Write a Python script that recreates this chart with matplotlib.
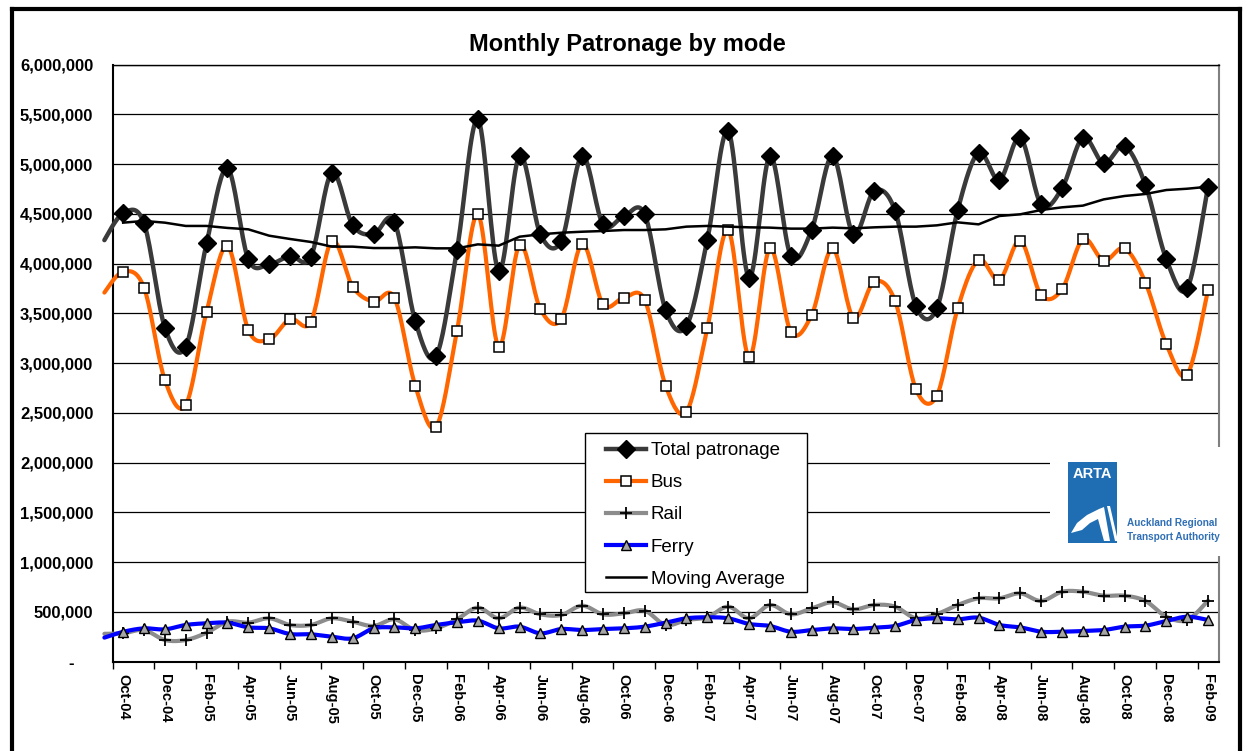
import numpy as np
import pandas as pd
import matplotlib
matplotlib.use('Agg')
import matplotlib.pyplot as plt
from matplotlib.lines import Line2D
from matplotlib.patches import Rectangle, Polygon
from matplotlib.ticker import FuncFormatter

plt.rcParams['font.family'] = ['Liberation Sans', 'DejaVu Sans']

# Monthly data, Sep-04 .. Feb-09 (Sep-04 only shows as the stub at the left edge)
months = pd.date_range('2004-09-01', '2009-02-01', freq='MS').strftime('%b-%y').tolist()

total = [4200000, 4505000, 4405000, 3356000, 3165000, 4204000, 4957000, 4043000, 3993000,
         4076000, 4069000, 4913000, 4387000, 4294000, 4421000, 3423000, 3071000, 4136000,
         5449000, 3925000, 5084000, 4294000, 4227000, 5084000, 4394000, 4478000, 4495000,
         3534000, 3373000, 4237000, 5332000, 3858000, 5081000, 4079000, 4337000, 5081000,
         4294000, 4729000, 4531000, 3574000, 3551000, 4538000, 5114000, 4840000, 5265000,
         4595000, 4756000, 5265000, 5007000, 5181000, 4789000, 4043000, 3751000, 4772000]

bus = [3680000, 3918000, 3758000, 2830000, 2579000, 3516000, 4177000, 3333000, 3239000,
       3443000, 3416000, 4227000, 3768000, 3617000, 3657000, 2773000, 2361000, 3323000,
       4495000, 3165000, 4187000, 3541000, 3443000, 4197000, 3591000, 3657000, 3634000,
       2773000, 2512000, 3350000, 4337000, 3058000, 4153000, 3316000, 3483000, 4153000,
       3456000, 3818000, 3624000, 2737000, 2673000, 3551000, 4036000, 3835000, 4230000,
       3684000, 3741000, 4244000, 4029000, 4153000, 3808000, 3189000, 2884000, 3735000]

rail = [280000, 285000, 318000, 218000, 218000, 291000, 402000, 392000, 436000,
        369000, 369000, 436000, 402000, 359000, 426000, 318000, 335000, 426000,
        543000, 436000, 543000, 476000, 469000, 563000, 476000, 486000, 512000,
        369000, 419000, 446000, 553000, 436000, 570000, 476000, 536000, 597000,
        526000, 570000, 553000, 436000, 479000, 570000, 637000, 637000, 687000,
        610000, 703000, 703000, 663000, 663000, 610000, 452000, 419000, 613000]

ferry = [235000, 300000, 335000, 325000, 369000, 386000, 392000, 345000, 335000,
         278000, 275000, 251000, 235000, 335000, 345000, 335000, 369000, 396000,
         412000, 335000, 352000, 285000, 328000, 318000, 328000, 335000, 352000,
         392000, 436000, 446000, 436000, 379000, 359000, 301000, 318000, 335000,
         328000, 342000, 359000, 419000, 436000, 426000, 442000, 369000, 345000,
         301000, 301000, 308000, 318000, 352000, 362000, 409000, 452000, 419000]

moving_avg = [np.nan, 4411000, 4428000, 4411000, 4378000, 4378000, 4358000, 4344000, 4280000,
              4247000, 4217000, 4170000, 4170000, 4156000, 4156000, 4163000, 4153000, 4153000,
              4193000, 4180000, 4270000, 4294000, 4310000, 4320000, 4327000, 4337000, 4337000,
              4344000, 4371000, 4378000, 4371000, 4364000, 4361000, 4351000, 4351000, 4361000,
              4354000, 4364000, 4371000, 4371000, 4384000, 4414000, 4394000, 4478000, 4495000,
              4538000, 4565000, 4582000, 4645000, 4679000, 4699000, 4739000, 4752000, 4772000]

x = np.arange(len(months)) - 1   # Oct-04 sits at 0


def smooth(xs, ys, n=20):
    # Excel style smoothed line: bezier segments through every point
    p = np.column_stack([xs, ys]).astype(float)
    p = np.vstack([p[0], p, p[-1]])
    t = np.linspace(0, 1, n)[:, None]
    out = []
    for i in range(1, len(p) - 2):
        p0, p1, p2, p3 = p[i - 1], p[i], p[i + 1], p[i + 2]
        c1 = p1 + (p2 - p0) / 6
        c2 = p2 - (p3 - p1) / 6
        seg = ((1 - t) ** 3) * p1 + 3 * ((1 - t) ** 2) * t * c1 + 3 * (1 - t) * t ** 2 * c2 + t ** 3 * p2
        out.append(seg if i == 1 else seg[1:])
    out = np.vstack(out)
    return out[:, 0], out[:, 1]


W, H = 1244, 751
fig = plt.figure(figsize=(W / 100, H / 100), dpi=100)
fig.patch.set_facecolor('white')
ax = fig.add_axes([112.7 / W, 1 - 661.7 / H, (1218.5 - 112.7) / W, (661.7 - 64.5) / H])

ax.set_xlim(-0.5, 52.5)
ax.set_ylim(0, 6000000)
ax.set_yticks(np.arange(0, 6000001, 500000))
ax.yaxis.set_major_formatter(FuncFormatter(lambda v, p: '-    ' if v == 0 else f'{v:,.0f}'))
ax.yaxis.grid(True, color='black', lw=0.9)
ax.set_axisbelow(True)
ax.tick_params(axis='y', length=0, pad=14, labelsize=12)
for lab in ax.get_yticklabels():
    lab.set_fontweight('bold')

# tick marks between every second month, labels on the month itself
ax.set_xticks(np.arange(-0.5, 52.6, 2))
ax.set_xticklabels([])
ax.set_xticks(np.arange(0, 53, 2), minor=True)
ax.set_xticklabels(months[1::2], minor=True, rotation=-90, fontsize=10.5,
                   fontweight='bold', va='top', ha='center')
ax.tick_params(axis='x', which='major', length=5, width=1, color='black', direction='out')
ax.tick_params(axis='x', which='minor', length=0, pad=9)

for side in ['left', 'bottom', 'top']:
    ax.spines[side].set_color('black')
ax.spines['left'].set_linewidth(1.5)
ax.spines['bottom'].set_linewidth(1.5)
ax.spines['top'].set_linewidth(1.0)
ax.spines['right'].set_color('#808080')
ax.spines['right'].set_linewidth(1.5)

series = [
    ('Total patronage', total, '#3a3a3a', 3.2, dict(marker='D', ms=9.5, mfc='black', mec='black')),
    ('Bus', bus, '#ff6600', 3.0, dict(marker='s', ms=6.5, mfc='white', mec='black', mew=1.1)),
    ('Rail', rail, '#8c8c8c', 3.0, dict(marker='+', ms=9, mec='black', mew=1.3)),
    ('Ferry', ferry, '#0000ff', 3.0, dict(marker='^', ms=6.5, mfc='#a6a6a6', mec='black', mew=1.0)),
]

handles = []
z = 3
for name, vals, col, lw, mk in series:
    sx, sy = smooth(x, vals)
    keep = sx >= -0.92
    ax.plot(sx[keep], sy[keep], color=col, lw=lw, solid_capstyle='round', zorder=z, clip_on=False)
    ax.plot(x[1:], vals[1:], ls='none', zorder=z + 0.5, clip_on=False, **mk)
    handles.append(Line2D([], [], color=col, lw=lw, label=name, **mk))
    z += 1

ax.plot(x, moving_avg, color='black', lw=1.8, zorder=z)
handles.append(Line2D([], [], color='black', lw=1.8, label='Moving Average'))

# legend with a manual frame
fig.add_artist(Rectangle((585 / W, 1 - 592 / H), (807 - 585) / W, (592 - 433) / H,
                         transform=fig.transFigure, facecolor='white', edgecolor='black',
                         lw=1.0, zorder=10))
leg = fig.legend(handles=handles, loc='upper left', bbox_to_anchor=(606 / W, 1 - 442 / H),
                 frameon=False, borderpad=0, borderaxespad=0, fontsize=13.5,
                 handlelength=2.15, handletextpad=0.25, labelspacing=0.8)
leg.set_zorder(11)

fig.text(627 / W, 1 - 44 / H, 'Monthly Patronage by mode', fontsize=17, fontweight='bold',
         ha='center', va='center')

# ARTA logo block
lg = fig.add_axes([1050 / W, 1 - 556 / H, 175 / W, 109 / H], zorder=12)
lg.set_xlim(0, 175)
lg.set_ylim(109, 0)
lg.set_facecolor('white')
for s in lg.spines.values():
    s.set_visible(False)
lg.set_xticks([])
lg.set_yticks([])
lg.add_patch(Rectangle((18, 15), 49, 81, facecolor='#1f6db3', edgecolor='none'))
lg.text(42.5, 27, 'ARTA', color='white', fontsize=10.5, fontweight='bold', ha='center', va='center')
lg.add_patch(Polygon([(21, 86), (27, 76), (37, 68), (49, 62), (54, 60), (60, 94), (54, 94),
                      (48, 72), (40, 76), (32, 83)], closed=True, facecolor='white', edgecolor='none'))
lg.add_patch(Polygon([(57, 59), (60, 59), (68, 94), (65, 94)], closed=True,
                     facecolor='white', edgecolor='none'))
lg.text(77, 76, 'Auckland Regional', color='#2f6fb5', fontsize=7.2, fontweight='bold', va='center')
lg.text(77, 90, 'Transport Authority', color='#2f6fb5', fontsize=7.2, fontweight='bold', va='center')

# thick chart-area border
for xs_, ys_ in [([11.5, 11.5], [H + 5, 8.5]), ([11.5, 1240], [8.5, 8.5]), ([1240, 1240], [8.5, H + 5])]:
    fig.add_artist(Line2D([v / W for v in xs_], [1 - v / H for v in ys_], transform=fig.transFigure,
                          color='black', lw=3.0, solid_capstyle='projecting', zorder=20))

fig.savefig('out.png', dpi=100)
